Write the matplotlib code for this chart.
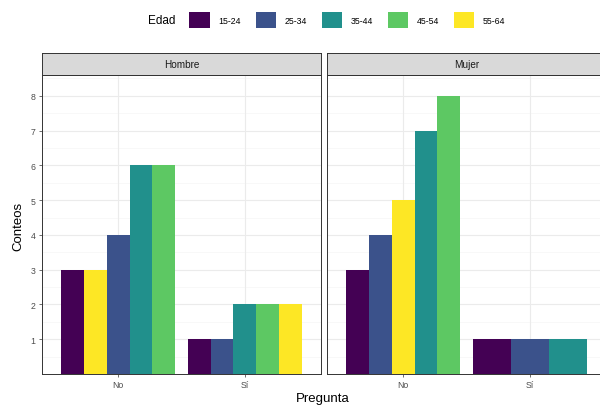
import matplotlib
matplotlib.use("Agg")
import matplotlib.pyplot as plt
from matplotlib.patches import Patch

plt.rcParams['font.family'] = ['Liberation Sans', 'DejaVu Sans']

# Data -------------------------------------------------------------------
age_groups = ["15-24", "25-34", "35-44", "45-54", "55-64"]
age_colors = ["#440154", "#3B528B", "#21908C", "#5DC863", "#FDE725"]
panels = ["Hombre", "Mujer"]
answers = ["No", "Sí"]

# bars per (panel, answer), in the order they are dodged
hombre_no_ages = ["15-24", "55-64", "25-34", "35-44", "45-54"]
hombre_no_counts = [3, 3, 4, 6, 6]
hombre_si_ages = ["15-24", "25-34", "35-44", "45-54", "55-64"]
hombre_si_counts = [1, 1, 2, 2, 2]
mujer_no_ages = ["15-24", "25-34", "55-64", "35-44", "45-54"]
mujer_no_counts = [3, 4, 5, 7, 8]
mujer_si_ages = ["15-24", "25-34", "35-44"]
mujer_si_counts = [1, 1, 1]

y_breaks = [1, 2, 3, 4, 5, 6, 7, 8]

groups = {
    ("Hombre", "No"): (hombre_no_ages, hombre_no_counts),
    ("Hombre", "Sí"): (hombre_si_ages, hombre_si_counts),
    ("Mujer", "No"): (mujer_no_ages, mujer_no_counts),
    ("Mujer", "Sí"): (mujer_si_ages, mujer_si_counts),
}
color_of = dict(zip(age_groups, age_colors))

# Figure -----------------------------------------------------------------
W, H = 600, 406
fig = plt.figure(figsize=(W / 100, H / 100), dpi=100)

def px_axes(x0, y0, x1, y1):
    return fig.add_axes([x0 / W, 1 - y1 / H, (x1 - x0) / W, (y1 - y0) / H])

panel_x = [(42, 321), (327, 606)]
panel_top, panel_bottom = 76, 375
strip_top = 54

tick_fs = 6.3
grey_text = "#4D4D4D"

for pi, panel in enumerate(panels):
    x0, x1 = panel_x[pi]
    ax = px_axes(x0, panel_top, x1, panel_bottom)
    ax.set_xlim(0.4, 2.6)
    ax.set_ylim(0, 8.6)
    ax.set_facecolor("white")
    # grid
    for y in y_breaks:
        ax.axhline(y, color="#EBEBEB", lw=0.8, zorder=0)
    for y in [b - 0.5 for b in y_breaks] + [8.5]:
        ax.axhline(y, color="#F5F5F5", lw=0.5, zorder=0)
    for xi in range(1, len(answers) + 1):
        ax.axvline(xi, color="#EBEBEB", lw=0.8, zorder=0)

    for ai, ans in enumerate(answers):
        ages, counts = groups[(panel, ans)]
        n = len(ages)
        w = 0.9 / n
        left = (ai + 1) - 0.45
        for bi, (age, c) in enumerate(zip(ages, counts)):
            ax.bar(left + w * (bi + 0.5), c, width=w,
                   color=color_of[age], edgecolor="none", zorder=2)

    ax.set_xticks(range(1, len(answers) + 1))
    ax.set_xticklabels(answers, fontsize=tick_fs, color=grey_text)
    ax.set_yticks(y_breaks)
    if pi == 0:
        ax.set_yticklabels([str(v) for v in y_breaks], fontsize=tick_fs,
                           color=grey_text)
    else:
        ax.tick_params(axis="y", left=False, labelleft=False)
    ax.tick_params(length=2.5, width=0.5, color="#333333", pad=2)
    for s in ax.spines.values():
        s.set_color("#333333")
        s.set_linewidth(0.7)

    # facet strip
    sax = px_axes(x0, strip_top, x1, panel_top)
    sax.set_facecolor("#D9D9D9")
    sax.set_xticks([])
    sax.set_yticks([])
    for s in sax.spines.values():
        s.set_color("#333333")
        s.set_linewidth(0.7)
    sax.text(0.5, 0.5, panel, transform=sax.transAxes, ha="center",
             va="center", fontsize=7.2, color="#1A1A1A")

# axis titles
fig.text(323 / W, 1 - 399 / H, "Pregunta", ha="center", va="center",
         fontsize=9.5, color="black")
fig.text(18 / W, 1 - 226 / H, "Conteos", ha="center", va="center",
         rotation=90, fontsize=9.5, color="black")

# legend
fig.text(162 / W, 1 - 21 / H, "Edad", ha="center", va="center",
         fontsize=8.5, color="black")
handles = [Patch(facecolor=c, edgecolor="none") for c in age_colors]
fig.legend(handles, age_groups, loc="center left",
           bbox_to_anchor=(185 / W, 1 - 21 / H), ncol=5, frameon=False,
           fontsize=6.3, handlelength=2.3, handleheight=2.3,
           handletextpad=1.0, columnspacing=1.7, borderpad=0,
           labelcolor="black")

fig.savefig("out.png", dpi=100, facecolor="white")
